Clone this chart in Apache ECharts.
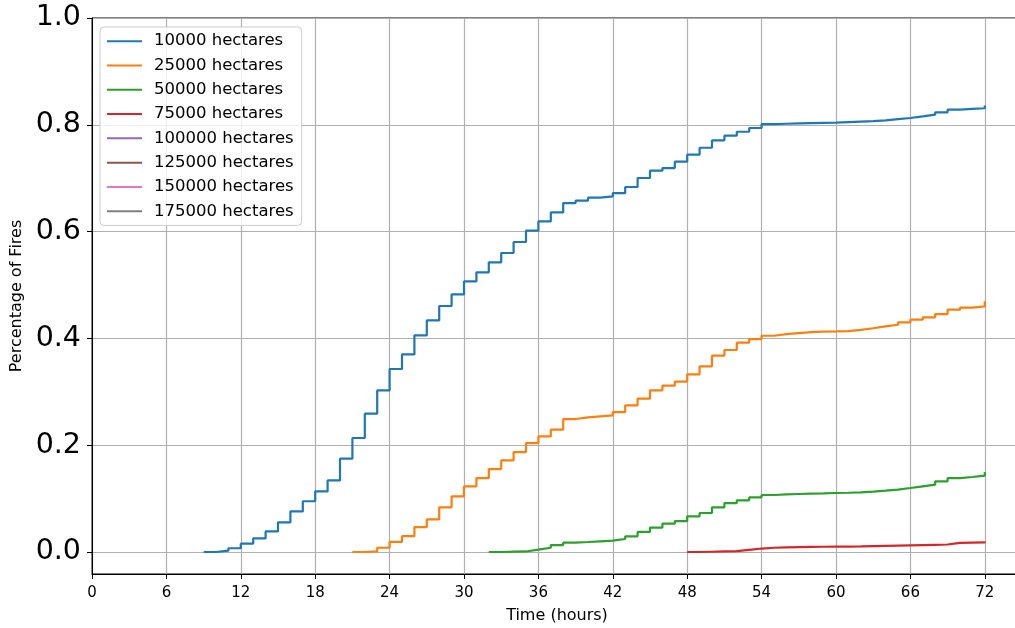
<!DOCTYPE html>
<html>
<head>
<meta charset="utf-8">
<title>Percentage of Fires over Time</title>
<script src="https://cdn.jsdelivr.net/npm/echarts@6/dist/echarts.min.js"></script>
<style>
  html, body { margin: 0; padding: 0; background: #ffffff; }
  #chart { width: 1015px; height: 628px; }
</style>
</head>
<body>
<div id="chart"></div>
<script>
// Cumulative share of fires reaching each size threshold, sampled hourly.
// Each series starts at its own first hour; value i belongs to hour start + i.
const seriesNames = [
  '10000 hectares', '25000 hectares', '50000 hectares', '75000 hectares',
  '100000 hectares', '125000 hectares', '150000 hectares', '175000 hectares'
];
const seriesColors = [
  '#1f77b4', '#ff7f0e', '#2ca02c', '#d62728',
  '#9467bd', '#8c564b', '#e377c2', '#7f7f7f'
];
const seriesStartHours = [9, 21, 32, 48, null, null, null, null];

const values10000 = [
  0, 0.0025, 0.007, 0.0155, 0.0255, 0.0386, 0.0555, 0.076, 0.095, 0.1135,
  0.134, 0.1747, 0.2135, 0.259, 0.3026, 0.3427, 0.370, 0.4056, 0.4337, 0.4607,
  0.4824, 0.5067, 0.5237, 0.5424, 0.5599, 0.5805, 0.6017, 0.6191, 0.636, 0.6535,
  0.658, 0.6635, 0.666, 0.672, 0.6835, 0.7004, 0.714, 0.719, 0.731, 0.744,
  0.757, 0.771, 0.7796, 0.787, 0.794, 0.8014, 0.802, 0.8025, 0.803, 0.8035,
  0.804, 0.805, 0.806, 0.807, 0.8083, 0.8108, 0.8127, 0.8158, 0.819, 0.8233,
  0.8283, 0.830, 0.831, 0.836
];
const values25000 = [
  0, 0.001, 0.008, 0.019, 0.0296, 0.0464, 0.061, 0.0836, 0.104, 0.1229,
  0.1385, 0.1553, 0.1716, 0.1872, 0.204, 0.2165, 0.229, 0.249, 0.2521, 0.254,
  0.2559, 0.2621, 0.2746, 0.2871, 0.3027, 0.3115, 0.319, 0.3327, 0.3477, 0.3677,
  0.3783, 0.392, 0.3988, 0.405, 0.4081, 0.41, 0.4119, 0.4125, 0.413, 0.4138,
  0.416, 0.419, 0.4225, 0.4256, 0.43, 0.435, 0.4394, 0.4456, 0.4537, 0.4575,
  0.46, 0.4694
];
const values50000 = [
  0, 0.0006, 0.001, 0.0044, 0.008, 0.013, 0.0175, 0.0187, 0.02, 0.0212,
  0.0243, 0.0293, 0.0375, 0.0456, 0.0531, 0.058, 0.0668, 0.073, 0.0836, 0.0917,
  0.0967, 0.1023, 0.1067, 0.108, 0.1086, 0.1092, 0.1098, 0.1105, 0.111, 0.1117,
  0.113, 0.1148, 0.1167, 0.1198, 0.123, 0.126, 0.1323, 0.1385, 0.1404, 0.1429,
  0.1498
];
const values75000 = [
  0, 0.0005, 0.001, 0.0015, 0.004, 0.0065, 0.008, 0.0085, 0.009, 0.0095,
  0.0098, 0.010, 0.0102, 0.0105, 0.011, 0.0115, 0.012, 0.0125, 0.013, 0.0135,
  0.014, 0.017, 0.0175, 0.018, 0.0195
];
const values100000 = [];
const values125000 = [];
const values150000 = [];
const values175000 = [];

const xTickLabels = ['0', '6', '12', '18', '24', '30', '36', '42', '48', '54', '60', '66', '72'];
const yTickValues = [0, 0.2, 0.4, 0.6, 0.8, 1.0];

const allValues = [values10000, values25000, values50000, values75000,
                   values100000, values125000, values150000, values175000];

const FONT = 'DejaVu Sans';

function toPairs(values, start) {
  return values.map((v, i) => [start + i, v]);
}

const series = seriesNames.map((name, k) => ({
  name: name,
  type: 'line',
  step: 'end',
  showSymbol: false,
  symbol: 'none',
  animation: false,
  color: seriesColors[k],
  lineStyle: { width: 2.2, color: seriesColors[k] },
  data: seriesStartHours[k] === null ? [] : toPairs(allValues[k], seriesStartHours[k]),
  z: 3
}));

const chart = echarts.init(document.getElementById('chart'), null, { renderer: 'canvas' });

chart.setOption({
  animation: false,
  backgroundColor: '#ffffff',
  textStyle: { fontFamily: FONT, color: '#000' },
  grid: {
    left: 92, top: 18, width: 930, height: 556,
    outerBoundsMode: 'none',
    containLabel: false,
    show: true, borderColor: '#000', borderWidth: 1, backgroundColor: 'transparent'
  },
  legend: {
    orient: 'vertical',
    left: 100, top: 27,
    data: seriesNames,
    icon: 'rect',
    itemWidth: 35,
    itemHeight: 2,
    itemGap: 0,
    padding: [2, 8, 2, 7],
    backgroundColor: 'rgba(255,255,255,0.8)',
    borderColor: '#cccccc',
    borderWidth: 1,
    borderRadius: 4,
    textStyle: {
      fontFamily: FONT, fontSize: 16.5, color: '#000',
      lineHeight: 24.3, padding: [0, 0, 0, 7]
    },
    z: 10
  },
  xAxis: {
    type: 'value',
    min: 0, max: 75, interval: 6,
    name: 'Time (hours)',
    nameLocation: 'middle',
    nameGap: 34,
    nameTextStyle: { fontFamily: FONT, fontSize: 16, color: '#000' },
    axisLine: { show: true, onZero: false, lineStyle: { color: '#000', width: 1 } },
    axisTick: { show: true, length: 5, lineStyle: { color: '#000', width: 1 } },
    axisLabel: {
      fontFamily: FONT, fontSize: 15, color: '#000', margin: 12,
      showMaxLabel: false,
      formatter: (v) => xTickLabels.includes(String(v)) ? String(v) : ''
    },
    splitLine: { show: true, lineStyle: { color: '#b0b0b0', width: 1.2 } }
  },
  yAxis: {
    type: 'value',
    min: -0.0412, max: 1.0,
    name: 'Percentage of Fires',
    nameLocation: 'middle',
    nameGap: 66,
    nameRotate: 90,
    nameTextStyle: { fontFamily: FONT, fontSize: 16, color: '#000' },
    axisLine: { show: true, onZero: false, lineStyle: { color: '#000', width: 1 } },
    axisTick: { show: true, length: 5, customValues: yTickValues, lineStyle: { color: '#000', width: 1 } },
    axisLabel: {
      fontFamily: FONT, fontSize: 28.5, color: '#000', margin: 11,
      customValues: yTickValues,
      formatter: (v) => v.toFixed(1)
    },
    splitLine: { show: true, lineStyle: { color: '#b0b0b0', width: 1.2 } }
  },
  series: series
});
</script>
</body>
</html>
